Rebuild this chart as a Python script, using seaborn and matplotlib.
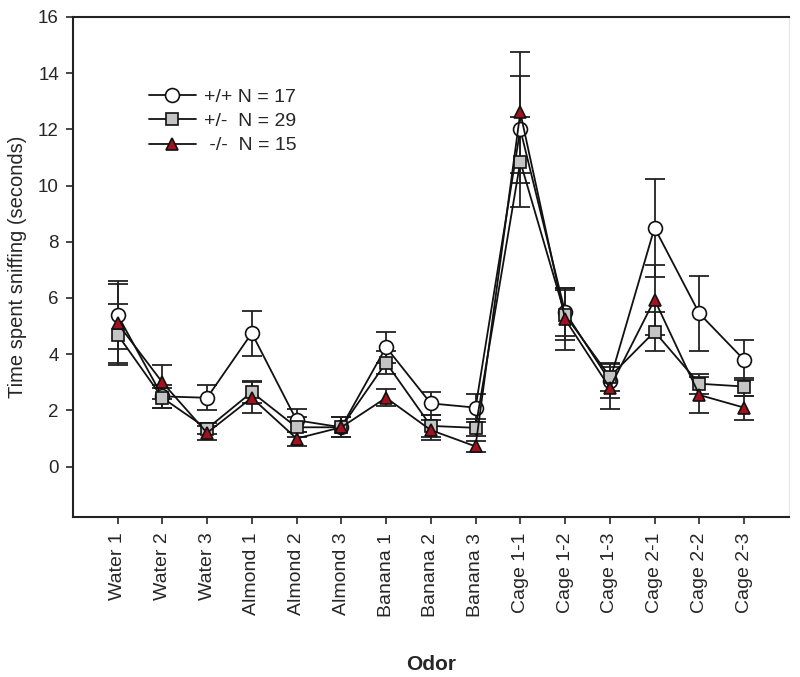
"""
Odor habituation / dishabituation - time spent sniffing per genotype
"""
#---------------------------------------------
import numpy as np
import pandas as pd
import matplotlib
matplotlib.use("Agg")
import matplotlib.pyplot as plt
import seaborn as sns
#---------------------------------------------
# data (mean, SEM)
odors = ["Water 1", "Water 2", "Water 3", "Almond 1", "Almond 2", "Almond 3",
         "Banana 1", "Banana 2", "Banana 3", "Cage 1-1", "Cage 1-2", "Cage 1-3",
         "Cage 2-1", "Cage 2-2", "Cage 2-3"]

wt_mean = [5.4, 2.5, 2.45, 4.75, 1.65, 1.4, 4.25, 2.25, 2.1, 12.0, 5.5, 3.05, 8.5, 5.45, 3.8]
wt_err = [1.2, 0.4, 0.45, 0.8, 0.4, 0.35, 0.55, 0.42, 0.5, 1.9, 0.85, 0.6, 1.75, 1.33, 0.7]

het_mean = [4.7, 2.45, 1.35, 2.65, 1.4, 1.4, 3.7, 1.45, 1.38, 10.85, 5.4, 3.2, 4.8, 2.95, 2.85]
het_err = [1.1, 0.35, 0.2, 0.4, 0.35, 0.35, 0.4, 0.4, 0.3, 1.6, 0.9, 0.5, 0.7, 0.35, 0.32]

ko_mean = [5.1, 3.0, 1.2, 2.45, 1.0, 1.4, 2.45, 1.3, 0.72, 12.6, 5.25, 2.8, 5.94, 2.55, 2.1]
ko_err = [1.4, 0.6, 0.25, 0.55, 0.25, 0.35, 0.3, 0.35, 0.2, 2.15, 1.1, 0.75, 1.25, 0.65, 0.43]

labels = ["+/+ N = 17", "+/-  N = 29", " -/-  N = 15"]
#---------------------------------------------
sns.set_style("ticks")
plt.rcParams["font.family"] = ["Liberation Sans", "DejaVu Sans"]

fig = plt.figure(figsize=(8, 6.77), dpi=100)
ax = fig.add_axes([0.091, 0.236, 0.895, 0.739])

x = np.arange(len(odors))
groups = [
    (wt_mean, wt_err, "o", "white", 10),
    (het_mean, het_err, "s", "#c4c4c4", 8.5),
    (ko_mean, ko_err, "^", "#a3101e", 9),
]

for (m, e, mk, fc, ms), lab in zip(groups, labels):
    df = pd.DataFrame({"x": x, "y": m})
    ax.errorbar(x, m, yerr=e, fmt="none", ecolor="#222222", elinewidth=1.3,
                capsize=7, capthick=1.3, zorder=2)
    sns.lineplot(data=df, x="x", y="y", ax=ax, color="#111111", lw=1.3,
                 marker=mk, markersize=ms, markerfacecolor=fc,
                 markeredgecolor="#111111", markeredgewidth=1.2, label=lab,
                 zorder=3)

ax.set_xlim(-1, 15)
ax.set_ylim(-1.8, 16)
ax.set_yticks(np.arange(0, 17, 2))
ax.set_xticks(x)
ax.set_xticklabels(odors, rotation=90, fontsize=14)
ax.tick_params(axis="y", labelsize=13.5, length=5, width=1.2, pad=5)
ax.tick_params(axis="x", length=5, width=1.2, pad=6)
ax.set_ylabel("Time spent sniffing (seconds)", fontsize=14.5, labelpad=8)
ax.set_xlabel("Odor", fontsize=15, fontweight="bold", labelpad=28)

for side in ["left", "bottom", "top"]:
    ax.spines[side].set_linewidth(1.5)
    ax.spines[side].set_color("#222222")
ax.spines["right"].set_color("#e6e6e6")
ax.spines["right"].set_linewidth(0.8)

leg = ax.legend(loc="upper left", bbox_to_anchor=(0.082, 0.893), frameon=False,
                fontsize=14, handlelength=2.4, handletextpad=0.45,
                labelspacing=0.35)

fig.savefig("out.png", dpi=100)
